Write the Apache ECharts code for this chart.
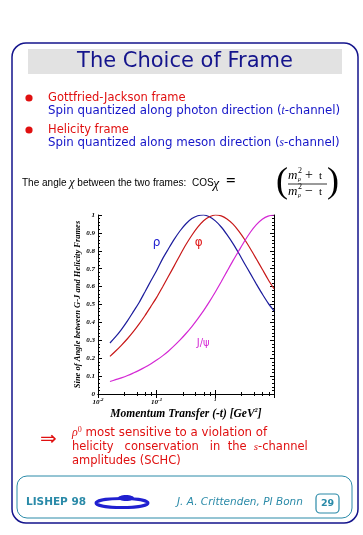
<!DOCTYPE html>
<html><head><meta charset="utf-8">
<script src="https://cdn.jsdelivr.net/npm/echarts@6/dist/echarts.min.js"></script>
<style>html,body{margin:0;padding:0;background:#fff}#c{width:363px;height:535px}</style>
</head><body><div id="c"></div>
<script>
// ---- data ----
const momentumTransfer = [0.016,0.02,0.025,0.032,0.04,0.05,0.063,0.079,0.1,0.126,0.158,0.2,0.251,0.316,0.398,0.501,0.631,0.794,1,1.26,1.58,2,2.51,3.16,3.98,5.01,6.31,7.94,10];
const sineRho  = [0.285,0.32,0.36,0.41,0.46,0.51,0.57,0.63,0.69,0.755,0.81,0.865,0.912,0.951,0.98,0.996,1.0,0.99,0.967,0.933,0.89,0.84,0.786,0.728,0.671,0.614,0.559,0.508,0.465];
const sinePhi  = [0.21,0.24,0.272,0.31,0.348,0.39,0.437,0.487,0.54,0.598,0.656,0.717,0.777,0.835,0.887,0.932,0.968,0.99,1.0,0.995,0.978,0.949,0.91,0.863,0.81,0.754,0.697,0.64,0.588];
const sineJpsi = [0.07,0.08,0.09,0.103,0.117,0.132,0.149,0.168,0.19,0.213,0.239,0.27,0.302,0.338,0.377,0.42,0.466,0.516,0.57,0.627,0.685,0.745,0.8,0.855,0.905,0.946,0.976,0.994,1.0];
const seriesNames = ['ρ','φ','J/ψ'];
const labelPos = [[0.1,0.845],[0.52,0.845],[0.62,0.285]];

const NAVY='#14148c', BLUE='#1414c8', RED='#e01010', TEAL='#2a8aa8';
const colors=['#1c1c9c','#c81818','#d428d4'];
const serif='"Liberation Serif","DejaVu Serif",serif';
const sans='"DejaVu Sans",sans-serif';
const lsans='"Liberation Sans",sans-serif';

function pairs(v){return momentumTransfer.map((q,i)=>[q,v[i]]);}
const vals=[sineRho,sinePhi,sineJpsi];

const chart=echarts.init(document.getElementById('c'),null,{renderer:'canvas'});
const axisLine={show:true,lineStyle:{color:'#000',width:1}};
const tickStyle={inside:true,length:4,lineStyle:{color:'#000',width:1}};
const minorX={show:true,splitNumber:5,length:2,lineStyle:{color:'#000',width:1}};
const minorY={show:true,splitNumber:5,length:2,lineStyle:{color:'#000',width:1}};

const option={
  animation:false,
  grid:{left:98,top:215,width:176,height:179},
  xAxis:[{
    type:'log',logBase:10,min:0.01,max:10,
    axisLine:axisLine,axisTick:tickStyle,minorTick:minorX,splitLine:{show:false},
    axisLabel:{margin:3,fontFamily:serif,fontStyle:'italic',fontWeight:'bold',fontSize:7,color:'#000',
      formatter:function(v){
        if(Math.abs(v-0.01)<1e-9) return '{b|10}{s|-2}';
        if(Math.abs(v-0.1)<1e-9) return '{b|10}{s|-1}';
        if(Math.abs(v-1)<1e-9) return '{s|1}';
        return '';
      },
      rich:{b:{fontFamily:serif,fontStyle:'italic',fontWeight:'bold',fontSize:7,color:'#000'},
            s:{fontFamily:serif,fontStyle:'italic',fontWeight:'bold',fontSize:5,color:'#000',padding:[0,0,6,0]}}},
    name:'Momentum Transfer (-t) [GeV{s|2}]',nameLocation:'middle',nameGap:8,
    nameTextStyle:{fontFamily:serif,fontStyle:'italic',fontWeight:'bold',fontSize:11.5,color:'#000',
      rich:{s:{fontFamily:serif,fontStyle:'italic',fontWeight:'bold',fontSize:6.5,color:'#000',padding:[0,0,7,0]}}}
  },{
    type:'log',logBase:10,min:0.01,max:10,position:'top',
    axisLine:axisLine,axisTick:tickStyle,minorTick:minorX,axisLabel:{show:false},splitLine:{show:false}
  }],
  yAxis:[{
    type:'value',min:0,max:1,interval:0.1,
    axisLine:axisLine,axisTick:tickStyle,minorTick:minorY,
    splitLine:{show:false},
    axisLabel:{margin:3,fontFamily:serif,fontStyle:'italic',fontWeight:'bold',fontSize:7,color:'#000',
      formatter:function(v){return (v===0||v===1)?String(v):v.toFixed(1);}},
    name:'Sine of Angle between G-J and Helicity Frames',nameLocation:'middle',nameGap:13,nameRotate:90,
    nameTextStyle:{fontFamily:serif,fontStyle:'italic',fontWeight:'bold',fontSize:8.5,color:'#000'}
  },{
    type:'value',min:0,max:1,interval:0.1,position:'right',
    axisLine:axisLine,axisTick:tickStyle,minorTick:minorY,
    splitLine:{show:false},axisLabel:{show:false}
  }],
  series:vals.map((v,i)=>({
    type:'line',name:seriesNames[i],data:pairs(v),smooth:0.3,showSymbol:false,
    lineStyle:{color:colors[i],width:1.2},itemStyle:{color:colors[i]},
    markPoint:{symbol:'circle',symbolSize:0,silent:true,
      data:[{coord:labelPos[i],value:seriesNames[i]}],
      label:{show:true,position:'inside',formatter:seriesNames[i],fontFamily:sans,fontSize:i===2?10:12,
        color:i===0?'#2020d0':(i===1?'#e01818':'#d428d4')}}
  })),
  graphic:[
    // outer slide frame
    {type:'rect',shape:{x:12,y:43,width:346,height:480,r:14},style:{fill:'none',stroke:NAVY,lineWidth:1.5},z:-1},
    // title box
    {type:'rect',shape:{x:28,y:49,width:314,height:25},style:{fill:'#e2e2e2'},z:-1},
    {type:'text',x:185,y:62,style:{text:'The Choice of Frame',font:'21px '+sans,fill:NAVY,textAlign:'center',textVerticalAlign:'middle'}},
    // bullets
    {type:'circle',shape:{cx:29,cy:98,r:3.6},style:{fill:RED}},
    {type:'circle',shape:{cx:29,cy:130,r:3.6},style:{fill:RED}},
    {type:'text',x:48,y:98,style:{text:'Gottfried-Jackson frame',font:'11.5px '+sans,fill:RED,textVerticalAlign:'middle'}},
    {type:'text',x:48,y:111,style:{rich:{n:{font:'11.8px '+sans,fill:BLUE},i:{font:'italic 11.5px '+serif,fill:BLUE}},text:'{n|Spin quantized along photon direction (}{i|t}{n|-channel)}',textVerticalAlign:'middle'}},
    {type:'text',x:48,y:130,style:{text:'Helicity frame',font:'11.5px '+sans,fill:RED,textVerticalAlign:'middle'}},
    {type:'text',x:48,y:143,style:{rich:{n:{font:'11.8px '+sans,fill:BLUE},i:{font:'italic 11.5px '+serif,fill:BLUE}},text:'{n|Spin quantized along meson direction (}{i|s}{n|-channel)}',textVerticalAlign:'middle'}},
    // formula line
    {type:'text',x:22,y:183,style:{rich:{n:{font:'10px '+lsans,fill:'#000'},c:{font:'italic 12px '+serif,fill:'#000'}},text:'{n|The angle }{c|χ}{n| between the two frames:}',textVerticalAlign:'middle'}},
    {type:'text',x:192,y:183,style:{text:'COS',font:'10px '+lsans,fill:'#000',textVerticalAlign:'middle'}},
    {type:'text',x:213,y:184,style:{text:'χ',font:'italic 14px '+serif,fill:'#000',textVerticalAlign:'middle'}},
    {type:'text',x:226,y:182,style:{text:'=',font:'bold 17px '+serif,fill:'#000',textVerticalAlign:'middle'}},
    {type:'text',x:276,y:183,style:{text:'(',font:'36px '+serif,fill:'#000',textVerticalAlign:'middle'}},
    {type:'text',x:327,y:183,style:{text:')',font:'36px '+serif,fill:'#000',textVerticalAlign:'middle'}},
    {type:'text',x:288,y:176,style:{text:'m',font:'italic 13px '+serif,fill:'#000',textVerticalAlign:'middle'}},
    {type:'text',x:298,y:171,style:{text:'2',font:'8px '+serif,fill:'#000',textVerticalAlign:'middle'}},
    {type:'text',x:298,y:179.5,style:{text:'ρ',font:'italic 6px '+serif,fill:'#000',textVerticalAlign:'middle'}},
    {type:'text',x:305,y:175.5,style:{text:'+',font:'14px '+serif,fill:'#000',textVerticalAlign:'middle'}},
    {type:'text',x:319,y:176,style:{text:'t',font:'11px '+serif,fill:'#000',textVerticalAlign:'middle'}},
    {type:'line',shape:{x1:288,y1:184,x2:327,y2:184},style:{stroke:'#000',lineWidth:0.8}},
    {type:'text',x:288,y:192,style:{text:'m',font:'italic 13px '+serif,fill:'#000',textVerticalAlign:'middle'}},
    {type:'text',x:298,y:187,style:{text:'2',font:'8px '+serif,fill:'#000',textVerticalAlign:'middle'}},
    {type:'text',x:298,y:195.5,style:{text:'ρ',font:'italic 6px '+serif,fill:'#000',textVerticalAlign:'middle'}},
    {type:'text',x:305,y:191.5,style:{text:'−',font:'14px '+serif,fill:'#000',textVerticalAlign:'middle'}},
    {type:'text',x:319,y:192,style:{text:'t',font:'11px '+serif,fill:'#000',textVerticalAlign:'middle'}},
    // conclusion
    {type:'text',x:40,y:440,style:{text:'⇒',font:'20px "DejaVu Sans",sans-serif',fill:RED,textVerticalAlign:'middle'}},
    {type:'text',x:72,y:433,style:{rich:{n:{font:'11.8px '+sans,fill:RED},g:{font:'italic 12px '+serif,fill:RED},s:{font:'8px '+serif,fill:RED,padding:[0,0,6,0]}},text:'{g|ρ}{s|0}{n| most sensitive to a violation of}',textVerticalAlign:'middle'}},
    {type:'text',x:72,y:447,style:{rich:{n:{font:'11.5px '+sans,fill:RED},i:{font:'italic 11px '+serif,fill:RED}},text:'{n|helicity   conservation   in  the  }{i|s}{n|-channel}',textVerticalAlign:'middle'}},
    {type:'text',x:72,y:461,style:{text:'amplitudes (SCHC)',font:'11.5px '+sans,fill:RED,textVerticalAlign:'middle'}},
    // footer
    {type:'rect',shape:{x:17,y:476,width:335,height:42,r:10},style:{fill:'none',stroke:TEAL,lineWidth:1}},
    {type:'text',x:26,y:502,style:{text:'LISHEP 98',font:'bold 10.5px '+sans,fill:TEAL,textVerticalAlign:'middle'}},
    {type:'ellipse',shape:{cx:122,cy:503,rx:26,ry:4.5},style:{fill:'none',stroke:'#2020d0',lineWidth:3}},
    {type:'ellipse',shape:{cx:126,cy:498,rx:8,ry:3},style:{fill:'#2020d0'}},
    {type:'text',x:177,y:502,style:{text:'J. A. Crittenden, PI Bonn',font:'italic 10.5px '+sans,fill:TEAL,textVerticalAlign:'middle'}},
    {type:'rect',shape:{x:316,y:494,width:23,height:19,r:4},style:{fill:'none',stroke:TEAL,lineWidth:1.2}},
    {type:'text',x:327.5,y:503.5,style:{text:'29',font:'bold 9.5px '+sans,fill:TEAL,textAlign:'center',textVerticalAlign:'middle'}}
  ]
};
chart.setOption(option);
</script></body></html>
